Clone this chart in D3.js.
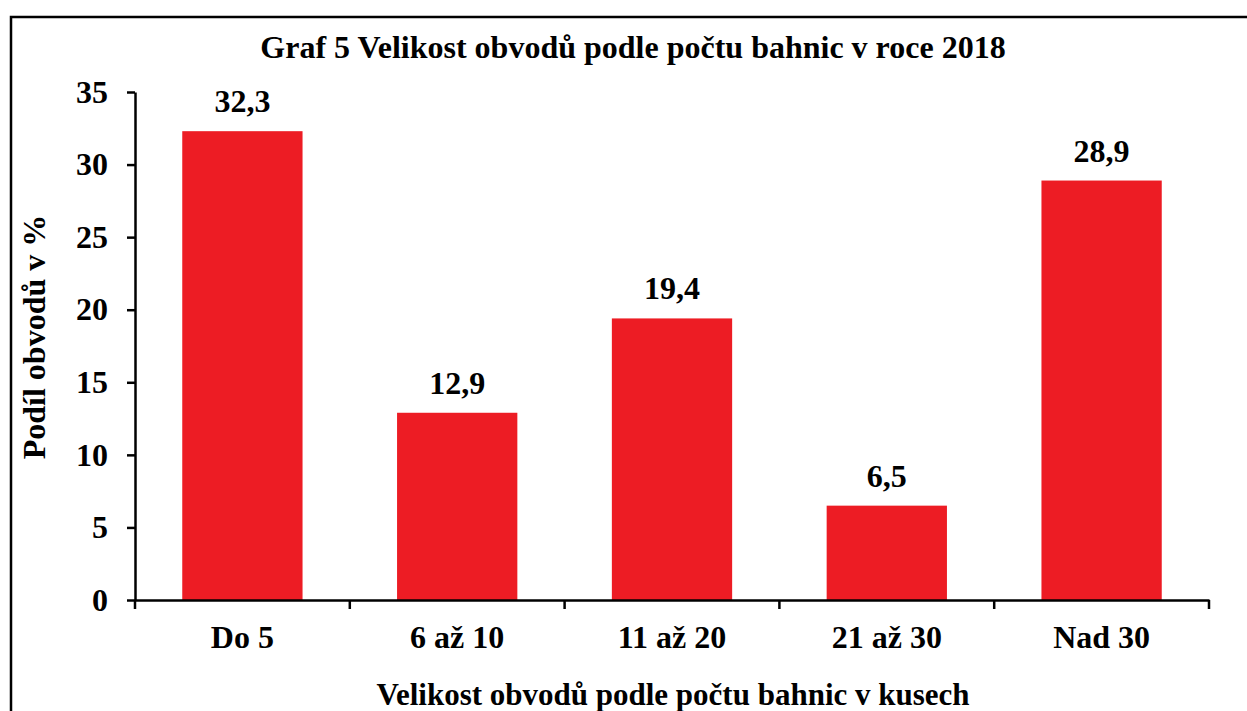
<!DOCTYPE html>
<html>
<head>
<meta charset="utf-8">
<script src="https://cdn.jsdelivr.net/npm/d3@7"></script>
<style>
  body { margin: 0; background: #fff; }
  text { font-family: "Liberation Serif", "Times New Roman", serif; font-weight: bold; fill: #000; }
</style>
</head>
<body>
<div id="chart"></div>
<script>
// data
var categories = ["Do 5", "6 až 10", "11 až 20", "21 až 30", "Nad 30"];
var values = [32.3, 12.9, 19.4, 6.5, 28.9];
var yTicks = [0, 5, 10, 15, 20, 25, 30, 35];

var W = 1247, H = 711;
var margin = {top: 92, right: 38, bottom: 111, left: 135},
    width = W - margin.left - margin.right,
    height = H - margin.top - margin.bottom;

var svg = d3.select("#chart")
  .append("svg")
    .attr("width", W)
    .attr("height", H);

// outer frame
svg.append("rect")
    .attr("x", 11).attr("y", 17)
    .attr("width", 1250).attr("height", 720)
    .attr("fill", "none")
    .attr("stroke", "#000")
    .attr("stroke-width", 2.5);

var g = svg.append("g")
    .attr("transform", "translate(" + margin.left + "," + margin.top + ")");

var x = d3.scaleBand()
    .domain(categories)
    .range([0, width])
    .paddingInner(0.44)
    .paddingOuter(0.22);

var y = d3.scaleLinear()
    .domain([0, 35])
    .range([height, 0]);

// bars
g.selectAll(".bar")
  .data(values)
  .enter()
  .append("rect")
    .attr("class", "bar")
    .attr("x", (d, i) => x(categories[i]))
    .attr("y", d => y(d))
    .attr("width", x.bandwidth())
    .attr("height", d => height - y(d))
    .style("fill", "#ED1C24");

// value labels
g.selectAll(".val")
  .data(values)
  .enter()
  .append("text")
    .attr("x", (d, i) => x(categories[i]) + x.bandwidth() / 2)
    .attr("y", d => y(d) - 19)
    .attr("text-anchor", "middle")
    .style("font-size", "32px")
    .text(d => d.toFixed(1).replace(".", ","));

// y axis
var yAxis = g.append("g")
    .call(d3.axisLeft(y).tickValues(yTicks).tickSize(8).tickPadding(19).tickSizeOuter(0));
yAxis.select(".domain").attr("stroke-width", 2.5);
yAxis.selectAll(".tick line").attr("stroke-width", 2.5);
yAxis.selectAll("text")
    .style("font-size", "32px")
    .style("font-family", "'Liberation Serif', serif");

// x axis with ticks at category boundaries
var xAxis = g.append("g")
    .attr("transform", "translate(0," + height + ")")
    .call(d3.axisBottom(x).tickSize(0).tickPadding(25));
xAxis.select(".domain").attr("stroke-width", 2.5);
xAxis.selectAll("text")
    .style("font-size", "32px")
    .style("font-family", "'Liberation Serif', serif");

var bounds = d3.range(categories.length + 1).map(i => i * width / categories.length);
xAxis.selectAll(".sep")
  .data(bounds)
  .enter()
  .append("line")
    .attr("x1", d => d).attr("x2", d => d)
    .attr("y1", 0).attr("y2", 9)
    .attr("stroke", "#000")
    .attr("stroke-width", 2.5);

// titles
svg.append("text")
    .attr("x", 633)
    .attr("y", 58)
    .attr("text-anchor", "middle")
    .style("font-size", "32px")
    .text("Graf 5 Velikost obvodů podle počtu bahnic v roce 2018");

svg.append("text")
    .attr("x", 673)
    .attr("y", 705)
    .attr("text-anchor", "middle")
    .style("font-size", "31px")
    .text("Velikost obvodů podle počtu bahnic v kusech");

svg.append("text")
    .attr("transform", "translate(45,337) rotate(-90)")
    .attr("text-anchor", "middle")
    .style("font-size", "32px")
    .text("Podíl obvodů v %");
</script>
</body>
</html>
